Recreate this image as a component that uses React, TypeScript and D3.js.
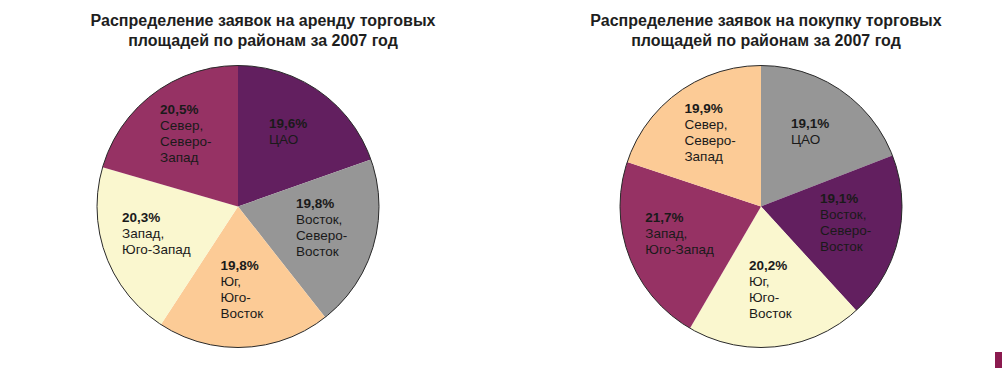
import React, { useRef, useEffect } from "react";
import * as d3 from "d3";

const districts = ["ЦАО", "Восток", "Юг", "Запад", "Север"];
const districtLabels = [
  ["ЦАО"],
  ["Восток,", "Северо-", "Восток"],
  ["Юг,", "Юго-", "Восток"],
  ["Запад,", "Юго-Запад"],
  ["Север,", "Северо-", "Запад"],
];
const rentShares = [19.6, 19.8, 19.8, 20.3, 20.5];
const buyShares = [19.1, 19.1, 20.2, 21.7, 19.9];
const rentTitle = ["Распределение заявок на аренду торговых", "площадей по районам за 2007 год"];
const buyTitle = ["Распределение заявок на покупку торговых", "площадей по районам за 2007 год"];

const rentColors = ["#621f5f", "#969696", "#fccb96", "#faf7cf", "#963264"];
const buyColors = ["#969696", "#621f5f", "#faf7cf", "#963264", "#fccb96"];

const App = () => {
  const ref = useRef(null);
  const width = 1002;
  const height = 368;

  useEffect(() => {
    const svg = d3.select(ref.current);
    svg.selectAll("*").remove();

    const r = 141;
    const font = "'Liberation Sans', Arial, sans-serif";

    const drawPie = (cx, cy, titleX, title, shares, colors) => {
      const data = districts.map((d, i) => ({ name: d, value: shares[i], lines: districtLabels[i] }));
      const pie = d3.pie().value((d) => d.value).sort(null);
      const arc = d3.arc().innerRadius(0).outerRadius(r);
      const labelArc = d3.arc().innerRadius(87).outerRadius(87);

      svg
        .append("text")
        .attr("x", titleX)
        .attr("y", 26)
        .attr("text-anchor", "middle")
        .style("font-family", font)
        .style("font-weight", "bold")
        .style("font-size", "16px")
        .attr("fill", "#1e1e1e")
        .selectAll("tspan")
        .data(title)
        .enter()
        .append("tspan")
        .attr("x", titleX)
        .attr("dy", (d, i) => (i === 0 ? 0 : 20))
        .text((d) => d);

      const g = svg.append("g").attr("transform", `translate(${cx},${cy})`);
      const arcs = pie(data);

      g.selectAll("path")
        .data(arcs)
        .enter()
        .append("path")
        .attr("d", arc)
        .attr("fill", (d, i) => colors[i]);

      g.append("circle")
        .attr("r", r)
        .attr("fill", "none")
        .attr("stroke", "#2a2a2a")
        .attr("stroke-width", 1);

      arcs.forEach((d) => {
        const [lx, ly] = labelArc.centroid(d);
        const lines = [d.data.value.toFixed(1).replace(".", ",") + "%", ...d.data.lines];
        const step = 16;
        const t = g
          .append("text")
          .attr("y", ly - ((lines.length - 1) * step) / 2 + 1)
          .style("font-family", font)
          .style("font-size", "13.5px")
          .attr("fill", "#1a1a1a");
        t.selectAll("tspan")
          .data(lines)
          .enter()
          .append("tspan")
          .attr("x", 0)
          .attr("dy", (l, i) => (i === 0 ? 0 : step))
          .style("font-weight", (l, i) => (i === 0 ? "bold" : "normal"))
          .text((l) => l);
        const w = t.node().getBBox().width;
        t.selectAll("tspan").attr("x", lx - w / 2);
      });
    };

    svg.attr("width", width).attr("height", height);
    drawPie(238, 206.5, 263, rentTitle, rentShares, rentColors);
    drawPie(761, 206.5, 766, buyTitle, buyShares, buyColors);

    svg
      .append("rect")
      .attr("x", 995)
      .attr("y", 352)
      .attr("width", 7)
      .attr("height", 16)
      .attr("fill", "#8b1a4f");
  }, []);

  return (
    <svg
      ref={ref}
      style={{ position: "absolute", left: 0, top: 0, background: "#fff" }}
    ></svg>
  );
};

export default App;
